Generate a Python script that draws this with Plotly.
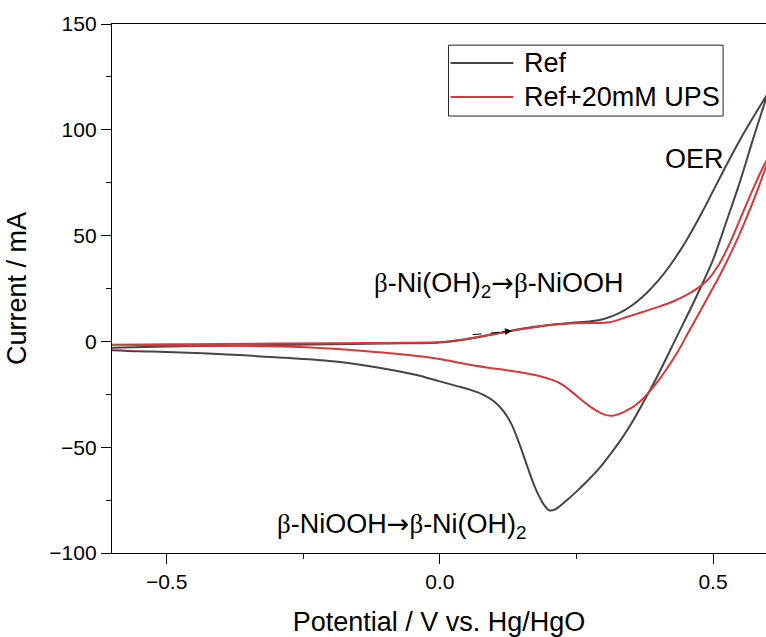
import plotly.graph_objects as go

# Cyclic voltammograms: anodic sweep (-0.6 -> 0.6 V) then cathodic sweep back
ref_anodic_E = [-0.60, -0.50, -0.40, -0.20, -0.10, 0.00, 0.05, 0.10, 0.15, 0.20, 0.25, 0.28,
                0.30, 0.32, 0.34, 0.36, 0.38, 0.40, 0.42, 0.44, 0.46, 0.48, 0.50, 0.523,
                0.55, 0.575, 0.60]
ref_anodic_I = [-3.0, -2.4, -2.0, -1.4, -1.0, -0.5, 1.0, 3.5, 6.0, 7.8, 9.0, 9.6,
                10.6, 12.4, 15.0, 18.6, 23.2, 28.8, 35.4, 43.0, 51.6, 61.0, 71.0, 82.5,
                95.5, 106.5, 117.0]
ref_cathodic_E = [0.60, 0.575, 0.55, 0.525, 0.50, 0.48, 0.46, 0.434, 0.40, 0.372, 0.35,
                  0.33, 0.31, 0.29, 0.27, 0.25, 0.235, 0.22, 0.21, 0.20, 0.19, 0.175,
                  0.16, 0.145, 0.13, 0.115, 0.10, 0.08, 0.055, 0.03, 0.00, -0.037,
                  -0.073, -0.134, -0.196, -0.30, -0.379, -0.50, -0.55, -0.60]
ref_cathodic_I = [117.0, 97.0, 76.0, 57.0, 38.5, 27.0, 16.0, 2.4, -15.5, -29.0, -39.0,
                  -47.0, -54.0, -60.5, -66.0, -71.0, -74.5, -77.8, -79.5, -79.8, -77.0, -69.5,
                  -59.0, -48.0, -38.5, -32.5, -28.5, -25.3, -22.8, -21.0, -18.9, -16.2,
                  -14.2, -11.5, -9.4, -7.5, -6.3, -5.0, -4.7, -4.2]

ups_anodic_E = [-0.60, -0.50, -0.40, -0.20, -0.10, 0.00, 0.05, 0.11, 0.15, 0.207, 0.25, 0.28,
                0.31, 0.342, 0.37, 0.40, 0.43, 0.45, 0.47, 0.49, 0.51, 0.53, 0.55, 0.575, 0.60]
ups_anodic_I = [-1.6, -1.4, -1.2, -0.9, -0.7, -0.3, 1.2, 4.0, 5.8, 7.9, 8.6, 8.7,
                9.0, 11.5, 13.8, 16.3, 19.2, 21.7, 24.8, 29.0, 36.0, 46.0, 58.0, 73.0, 86.5]
ups_cathodic_E = [0.60, 0.58, 0.555, 0.535, 0.513, 0.495, 0.476, 0.455, 0.434, 0.40, 0.366,
                  0.34, 0.317, 0.30, 0.285, 0.27, 0.256, 0.24, 0.225, 0.207, 0.18, 0.146,
                  0.12, 0.086, 0.04, 0.00, -0.037, -0.08, -0.134, -0.20, -0.256, -0.40, -0.60]
ups_cathodic_I = [85.5, 70.5, 54.5, 43.0, 31.5, 23.0, 14.0, 4.3, -5.5, -18.5, -28.5,
                  -33.0, -35.1, -34.5, -32.5, -29.8, -27.0, -23.5, -20.5, -18.3, -16.2, -14.5,
                  -13.5, -12.3, -10.3, -8.3, -7.0, -5.8, -4.6, -3.4, -2.6, -2.0, -1.6]

series_names = ["Ref", "Ref+20mM UPS"]
series_colors = ["#454545", "#d9363a"]

x_ticks = [-0.5, 0.0, 0.5]
y_ticks = [-100, -50, 0, 50, 100, 150]

FONT = "Arial, Liberation Sans, sans-serif"
BETA = '<span style="font-family:Liberation Serif, Times New Roman, serif">β</span>'
ARROW = '<span style="font-family:DejaVu Sans">→</span>'

fig = go.Figure()

loops = [
    (ref_anodic_E + ref_cathodic_E, ref_anodic_I + ref_cathodic_I),
    (ups_anodic_E + ups_cathodic_E, ups_anodic_I + ups_cathodic_I),
]
for (E, I), name, color in zip(loops, series_names, series_colors):
    fig.add_trace(go.Scatter(
        x=E, y=I, mode="lines", name=name, showlegend=False,
        line=dict(color=color, width=2, shape="spline", smoothing=1.0),
    ))

# Framed legend drawn with shapes and text
legend_box = dict(x0=0.5145, x1=0.9344, y0=0.826, y1=0.960)
fig.add_shape(type="rect", xref="paper", yref="paper", **legend_box,
              line=dict(color="#222222", width=1), fillcolor="white", layer="below")
for name, color, yp in zip(series_names, series_colors, [0.9263, 0.862]):
    fig.add_shape(type="line", xref="paper", yref="paper",
                  x0=0.5176, x1=0.6137, y0=yp, y1=yp,
                  line=dict(color=color, width=2))
    fig.add_annotation(xref="paper", yref="paper", x=0.6275, y=yp, text=name,
                       showarrow=False, xanchor="left", yanchor="middle",
                       font=dict(family=FONT, size=27, color="black"))

# Peak assignments
fig.add_annotation(x=0.467, y=86, text="OER", showarrow=False,
                   font=dict(family=FONT, size=27, color="black"))
fig.add_annotation(x=0.108, y=27, text=f"{BETA}-Ni(OH)<sub>2</sub>{ARROW}{BETA}-NiOOH",
                   showarrow=False, font=dict(family=FONT, size=27, color="black"))
fig.add_annotation(x=-0.07, y=-87, text=f"{BETA}-NiOOH{ARROW}{BETA}-Ni(OH)<sub>2</sub>",
                   showarrow=False, font=dict(family=FONT, size=27, color="black"))

# Sweep direction arrow
fig.add_shape(type="line", x0=0.06, y0=3.2, x1=0.118, y1=4.5,
              line=dict(color="black", width=1, dash="dash"))
fig.add_annotation(x=0.132, y=5.0, ax=0.112, ay=4.4, axref="x", ayref="y",
                   text="", showarrow=True, arrowhead=2, arrowsize=1.4,
                   arrowwidth=1, arrowcolor="black", standoff=0)

axis_common = dict(
    showline=True, linecolor="black", linewidth=1.3, mirror=True,
    ticks="outside", ticklen=10, tickwidth=1.3, tickcolor="black",
    showgrid=False, zeroline=False,
    tickfont=dict(family=FONT, size=21, color="black"),
)

fig.update_xaxes(
    range=[-0.6, 0.597], tickvals=x_ticks, tickformat=".1f",
    minor=dict(ticks="outside", ticklen=5, tickwidth=1.3, tickcolor="black", dtick=0.25),
    title=dict(text="Potential / V vs. Hg/HgO", font=dict(family=FONT, size=27, color="black"),
               standoff=19),
    **axis_common,
)
fig.update_yaxes(
    range=[-100, 150], tickvals=y_ticks,
    minor=dict(ticks="outside", ticklen=5, tickwidth=1.3, tickcolor="black", dtick=25),
    title=dict(text="Current / mA", font=dict(family=FONT, size=27, color="black"),
               standoff=14),
    **axis_common,
)

fig.update_layout(
    width=766, height=637,
    margin=dict(l=112, r=0, t=24, b=84),
    paper_bgcolor="white", plot_bgcolor="white",
    font=dict(family=FONT, color="black"),
)

fig.write_html("out.html")
